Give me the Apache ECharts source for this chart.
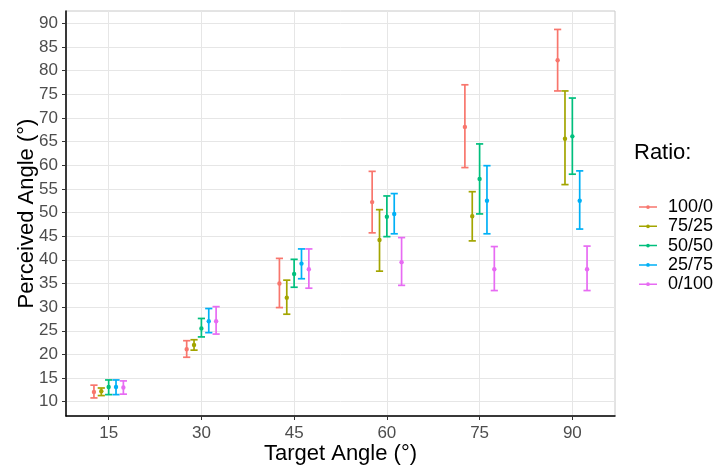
<!DOCTYPE html>
<html>
<head>
<meta charset="utf-8">
<script src="https://cdn.jsdelivr.net/npm/echarts@6/dist/echarts.min.js"></script>
<style>
  html, body { margin: 0; padding: 0; background: #fff; }
  #chart-container { width: 717px; height: 468px; }
</style>
</head>
<body>
<div id="chart-container"></div>
<script>
var targets = [15, 30, 45, 60, 75, 90];
var ratios = ['100/0', '75/25', '50/50', '25/75', '0/100'];
var yTicks = [10, 15, 20, 25, 30, 35, 40, 45, 50, 55, 60, 65, 70, 75, 80, 85, 90];

// mean perceived angle per ratio
var mean100 = [12.05, 21.1, 35.0, 52.2, 68.1, 82.2];
var mean75 = [12.2, 22.0, 32.0, 44.2, 49.2, 65.6];
var mean50 = [13.1, 25.5, 37.0, 49.1, 57.1, 66.1];
var mean25 = [13.1, 27.0, 39.2, 49.7, 52.5, 52.5];
var mean0 = [13.0, 27.0, 38.0, 39.5, 38.0, 38.0];

// lower / upper ends of the error bars
var low100 = [10.8, 19.4, 29.9, 45.7, 59.5, 75.7];
var low75 = [11.3, 20.9, 28.5, 37.6, 44.0, 55.9];
var low50 = [11.5, 23.7, 34.2, 44.9, 49.7, 58.1];
var low25 = [11.5, 24.6, 36.0, 45.5, 45.5, 46.5];
var low0 = [11.6, 24.3, 34.0, 34.6, 33.5, 33.5];

var high100 = [13.5, 22.9, 40.3, 58.7, 77.0, 88.7];
var high75 = [12.9, 23.1, 35.7, 50.6, 54.4, 75.7];
var high50 = [14.6, 27.6, 40.1, 53.5, 64.5, 74.2];
var high25 = [14.6, 29.7, 42.3, 54.0, 59.9, 58.8];
var high0 = [14.4, 30.1, 42.3, 44.7, 42.8, 42.9];

var means = [mean100, mean75, mean50, mean25, mean0];
var lows = [low100, low75, low50, low25, low0];
var highs = [high100, high75, high50, high25, high0];
var colors = ['#F8766D', '#A3A500', '#00BF7D', '#00B0F6', '#E76BF3'];

var dodge = 1.19; // x units between neighbouring ratios
var font = 'Liberation Sans, Arial, sans-serif';

var dom = document.getElementById('chart-container');
var myChart = echarts.init(dom, null, { renderer: 'canvas' });

function renderItem(params, api) {
  var x = api.value(0);
  var pM = api.coord([x, api.value(1)]);
  var pLo = api.coord([x, api.value(2)]);
  var pHi = api.coord([x, api.value(3)]);
  var c = api.visual('color');
  var w = 3.6;
  var st = { stroke: c, lineWidth: 1.7 };
  return {
    type: 'group',
    children: [
      { type: 'line', shape: { x1: pLo[0], y1: pLo[1], x2: pHi[0], y2: pHi[1] }, style: st },
      { type: 'line', shape: { x1: pHi[0] - w, y1: pHi[1], x2: pHi[0] + w, y2: pHi[1] }, style: st },
      { type: 'line', shape: { x1: pLo[0] - w, y1: pLo[1], x2: pLo[0] + w, y2: pLo[1] }, style: st },
      { type: 'circle', shape: { cx: pM[0], cy: pM[1], r: 2.2 }, style: { fill: c } }
    ]
  };
}

var series = ratios.map(function (name, i) {
  var data = targets.map(function (t, j) {
    return [t + (i - 2) * dodge, means[i][j], lows[i][j], highs[i][j]];
  });
  return {
    name: name,
    type: 'custom',
    color: colors[i],
    renderItem: renderItem,
    encode: { x: 0, y: [1, 2, 3] },
    data: data
  };
});

var legendIcon = 'path://M0,4h24v2h-24z M12,2.5a2.5,2.5 0 1,1 -0.001,0z';

option = {
  animation: false,
  grid: {
    left: 66, right: 102, top: 11, bottom: 52,
    outerBoundsMode: 'none',
    show: true, borderColor: '#c8c8c8', borderWidth: 1
  },
  graphic: [{
    type: 'text', left: 634, top: 142,
    style: { text: 'Ratio:', fontSize: 22, fontFamily: font, fill: '#000' }
  }],
  legend: {
    orient: 'vertical',
    left: 634, top: 193,
    itemWidth: 18, itemHeight: 5,
    itemGap: 1.3,
    textStyle: { fontSize: 18, fontFamily: font, color: '#000', padding: [0, 0, 0, 6] },
    data: ratios.map(function (r) { return { name: r, icon: legendIcon }; })
  },
  xAxis: {
    type: 'value',
    min: 8.1, max: 96.9,
    name: 'Target Angle (°)',
    nameLocation: 'middle',
    nameGap: 27,
    nameMoveOverlap: false,
    nameTextStyle: { fontSize: 22, fontFamily: font, color: '#000' },
    axisLine: { onZero: false, lineStyle: { color: '#000', width: 1.5 } },
    axisTick: { customValues: targets, length: 4, lineStyle: { color: '#333' } },
    axisLabel: { customValues: targets, fontSize: 17, fontFamily: font, color: '#4D4D4D', margin: 9 },
    splitLine: { show: true, lineStyle: { color: '#e6e6e6', width: 1 } }
  },
  yAxis: {
    type: 'value',
    min: 6.98, max: 92.6,
    name: 'Perceived Angle (°)',
    nameLocation: 'middle',
    nameGap: 28,
    nameMoveOverlap: false,
    nameTextStyle: { fontSize: 22, fontFamily: font, color: '#000' },
    axisLine: { show: true, onZero: false, lineStyle: { color: '#000', width: 1.5 } },
    axisTick: { show: true, customValues: yTicks, length: 4, lineStyle: { color: '#333' } },
    axisLabel: { customValues: yTicks, fontSize: 17, fontFamily: font, color: '#4D4D4D', margin: 8 },
    splitLine: { show: true, lineStyle: { color: '#e6e6e6', width: 1 } }
  },
  series: series
};

myChart.setOption(option);
window.addEventListener('resize', myChart.resize);
</script>
</body>
</html>
